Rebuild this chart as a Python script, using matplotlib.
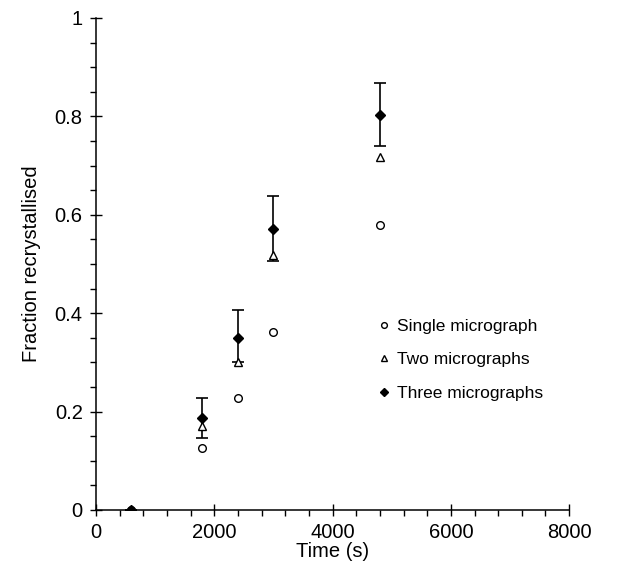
import matplotlib
matplotlib.use("Agg")
import matplotlib.pyplot as plt
from matplotlib.ticker import MultipleLocator, FuncFormatter

plt.rcParams['font.family'] = ['Liberation Sans', 'DejaVu Sans']

# data
time_s = [600, 1800, 2400, 3000, 4800]
single = [0.0, 0.125, 0.228, 0.362, 0.580]
two = [0.0, 0.170, 0.300, 0.518, 0.718]
three = [0.0, 0.187, 0.350, 0.572, 0.803]
three_lo = [0.0, 0.147, 0.300, 0.505, 0.740]
three_hi = [0.0, 0.228, 0.407, 0.638, 0.867]

fig = plt.figure(figsize=(6.31, 5.61), dpi=100)
ax = fig.add_axes([0.152, 0.091, 0.75, 0.877])

yerr = [[t - lo for t, lo in zip(three, three_lo)],
        [hi - t for t, hi in zip(three, three_hi)]]
ax.errorbar(time_s, three, yerr=yerr, fmt='none', ecolor='black',
            elinewidth=1.2, capsize=4.5, capthick=1.2)

ax.plot(time_s, single, 'o', ms=5.5, mfc='white', mec='black', mew=1.0,
        ls='none', label='Single micrograph')
ax.plot(time_s, two, '^', ms=6, mfc='white', mec='black', mew=1.0,
        ls='none', label='Two micrographs')
ax.plot(time_s, three, 'D', ms=5, mfc='black', mec='black',
        ls='none', label='Three micrographs')

ax.set_xlim(0, 8000)
ax.set_ylim(0, 1)
ax.xaxis.set_major_locator(MultipleLocator(2000))
ax.xaxis.set_minor_locator(MultipleLocator(400))
ax.yaxis.set_major_locator(MultipleLocator(0.2))
ax.yaxis.set_minor_locator(MultipleLocator(0.05))
ax.yaxis.set_major_formatter(FuncFormatter(lambda v, p: f'{v:g}'))
ax.tick_params(which='major', direction='inout', length=9, width=1,
               labelsize=14.5, pad=5)
ax.tick_params(which='minor', direction='out', length=4.5, width=1)

for s in ['top', 'right']:
    ax.spines[s].set_visible(False)
for s in ['left', 'bottom']:
    ax.spines[s].set_linewidth(1.1)
ax.patch.set_alpha(0)

ax.set_xlabel('Time (s)', fontsize=14.5, labelpad=0)
ax.set_ylabel('Fraction recrystallised', fontsize=14.5, labelpad=10)

ax.legend(loc='upper left', bbox_to_anchor=(0.56, 0.42), frameon=False,
          fontsize=12.5, handlelength=0.8, handletextpad=0.4,
          labelspacing=1.05, markerscale=0.75)

fig.savefig('out.png', dpi=100)
